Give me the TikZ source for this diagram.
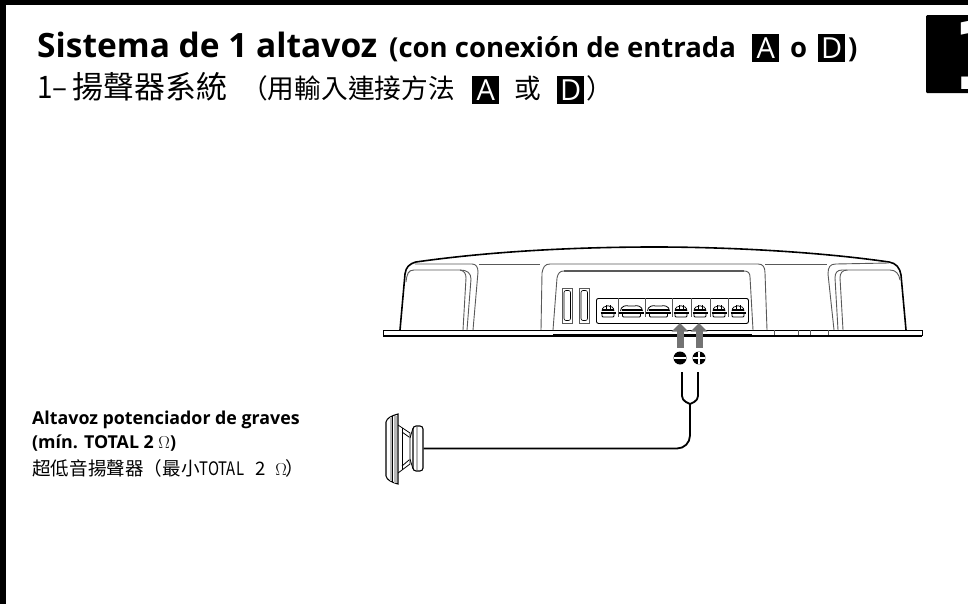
\documentclass[tikz,border=0pt]{standalone}
\usepackage{fontspec}
\setmainfont{Open Sans}
\newfontfamily\cjk{Noto Sans CJK TC}
\newfontfamily\bignum{DejaVu Sans}
\usetikzlibrary{arrows.meta}
\definecolor{polegray}{rgb}{0.45, 0.45, 0.45}
\definecolor{bodygray}{rgb}{0.35, 0.35, 0.35}
\definecolor{stripegray}{rgb}{0.72, 0.72, 0.72}
\tikzset{
  txt/.style={anchor=base west, inner sep=0pt, text=black},
  badge/.style={fill=black, text=white, inner sep=0pt, anchor=north west, minimum width=27pt, minimum height=28pt},
  outline/.style={line width=1.6pt, black},
  inner/.style={line width=0.9pt, bodygray},
  cable/.style={line width=1.8pt, black, line join=round},
  polearrow/.style={line width=7pt, polegray, -{Triangle[length=8.5pt,width=16pt]}},
  polesign/.style={circle, fill=black, inner sep=0pt, minimum size=13pt},
  narrowterm/.pic={
    \draw[line width=.7pt, fill=white] (-6,-1) .. controls (-6,-8) and (6,-8) .. (6,-1);
    \draw[line width=.7pt] (-2,-7) -- (-2,-1) (2,-7) -- (2,-1);
    \draw[line width=1.1pt] (-6,-2) -- (6,-2);
    \draw[line width=1.8pt] (-7.5,1) -- (7.5,1);
    \draw[line width=.8pt, rounded corners=1pt] (-6,1) -- (-6,5) -- (6,5) -- (6,1);
  },
  wideterm/.pic={
    \draw[line width=.8pt, fill=white] (-11,-1) .. controls (-11,-6) and (-5,-7) .. (-3,-6) -- (3,-6) .. controls (5,-7) and (11,-6) .. (11,-1);
    \draw[line width=1.1pt] (-10,-2) -- (10,-2);
    \draw[line width=1.8pt] (-12.5,1) -- (12.5,1);
    \draw[line width=.8pt, rounded corners=1pt] (-9,1) -- (-9,5) -- (9,5) -- (9,1);
  },
}
\begin{document}
\begin{tikzpicture}[x=1pt,y=-1pt]
    \useasboundingbox (0,0) rectangle (968,604);
    % frame
    \fill[black] (0,0) rectangle (968,5);
    \fill[black] (0,0) rectangle (6,604);
    % tab with the number
    \node[fill=black, rounded corners=1pt, inner sep=0pt, minimum width=48pt, minimum height=78pt, anchor=north west] (tab) at (926,15) {};
    \node[txt, text=white, font=\bignum\bfseries\fontsize{96}{96}\selectfont] (tabnum) at (950,90) {1};

    % headings
    \node[txt, font=\bfseries\fontsize{33.5}{34}\selectfont] (head) at (37,58) {Sistema de 1 altavoz};
    \node[txt, font=\bfseries\fontsize{27.5}{28}\selectfont] (headsub) at (389,58) {(con conexión de entrada};
    \node[badge, font=\fontsize{29}{29}\selectfont] (headA) at (752,33.5) {A};
    \node[txt, font=\bfseries\fontsize{27.5}{28}\selectfont] (heado) at (790,58) {o};
    \node[badge, font=\fontsize{29}{29}\selectfont] (headD) at (818,33.5) {D};
    \node[txt, font=\bfseries\fontsize{27.5}{28}\selectfont] (headend) at (848,58) {)};
    \node[txt, font=\cjk\fontsize{31}{31}\selectfont] (zhone) at (37,99) {\scalebox{.9}[1]{1–}};
    \node[txt, font=\cjk\fontsize{31}{31}\selectfont] (zhhead) at (72,99) {揚聲器系統};
    \node[txt, font=\cjk\fontsize{26.7}{27}\selectfont] (zhsub) at (241,98.5) {（用輸入連接方法};
    \node[badge, font=\fontsize{29}{29}\selectfont] (zhA) at (472,76) {A};
    \node[txt, font=\cjk\fontsize{26.7}{27}\selectfont] (zhor) at (514,98.5) {或};
    \node[badge, font=\fontsize{29}{29}\selectfont] (zhD) at (557,76) {D};
    \node[txt, font=\cjk\fontsize{26.7}{27}\selectfont] (zhend) at (586,98.5) {）};

    % speaker label
    \node[txt, font=\bfseries\fontsize{17.8}{18}\selectfont] (spka) at (32,424) {Altavoz potenciador de graves};
    \node[txt, font=\bfseries\fontsize{17.8}{18}\selectfont] (spkb) at (32,448) {(mín. TOTAL 2 $\Omega$)};
    \node[txt, font=\cjk\fontsize{18.6}{19}\selectfont] (spkc) at (32,475) {超低音揚聲器（最小\scalebox{.8}[1]{TOTAL}\hspace{11pt}2\hspace{10pt}$\Omega$\hspace{-1pt}）};

    % amplifier flange
    \draw[line width=1pt, fill=white] (383,330) -- (922,330) -- (922,335.5) -- (383,335.5) -- cycle;
    \draw[line width=2pt] (383,336) -- (922,336);
    \draw[line width=3pt] (553,335) -- (752,335);
    \foreach \x in {774,798,810,828} {
        \draw[inner] (\x,330) -- (\x,335);
    }
    % amplifier body
    \draw[outline] (400,330) -- (405,274) .. controls (406,267) and (409,264) .. (416,262)
        .. controls (500,250) and (590,247) .. (655,247)
        .. controls (730,247) and (820,252) .. (889,262)
        .. controls (896,263) and (900,268) .. (901,275) -- (906,330);
    % left pocket
    \draw[inner] (415,264) -- (472,264) .. controls (476,264) and (478,267) .. (478,272) -- (473,330);
    \draw[inner] (406,282) .. controls (407,274) and (408,270) .. (414,270) -- (460,270)
        .. controls (467,270) and (471,273) .. (471,279) -- (467,330);
    \draw[inner] (460,270) .. controls (464,271) and (466,273) .. (466,278) -- (463,330);
    \draw[inner] (479,264) -- (540,264);
    % middle panel
    \draw[inner] (541,330) -- (542,273) .. controls (543,267) and (545,264) .. (550,264) -- (758,264)
        .. controls (763,264) and (765,267) .. (765,273) -- (767,330);
    \draw[inner] (553,330) -- (557,278) .. controls (558,273) and (560,271) .. (564,271) -- (744,271)
        .. controls (748,271) and (750,273) .. (750,277) -- (753,330);
    \draw[line width=1.4pt, bodygray] (564,271) -- (744,271);
    \draw[inner] (765,264) -- (827,264);
    % right pocket
    \draw[inner] (834,330) -- (828,274) .. controls (828,267) and (830,264) .. (836,264) -- (889,263);
    \draw[inner] (838,330) -- (835,278) .. controls (835,273) and (837,270) .. (842,270) -- (847,270);
    \draw[inner] (843,330) -- (840,278) .. controls (840,273) and (842,270) .. (848,270) -- (890,270)
        .. controls (896,270) and (899,274) .. (900,280);
    % slots
    \foreach \x in {562,579} {
        \draw[inner, fill=white] (\x,288) rectangle ++(10.5,35);
        \draw[line width=.6pt, rounded corners=2pt] (\x+2,290.5) rectangle ++(6.5,30);
    }

    % terminal strip
    \node[draw, line width=.9pt, rounded corners=2pt, inner sep=0pt, minimum width=152pt, minimum height=25pt, anchor=north west] (strip) at (596,298) {};
    \foreach \x in {618,645,672,691,710,728} {
        \draw[inner] (\x,298) -- (\x,317);
    }
    \foreach \x in {608,681,700,719,738} {
        \pic at (\x,312) {narrowterm};
    }
    \foreach \x in {631.5,658.5} {
        \pic at (\x,312) {wideterm};
    }
    \coordinate (termminus) at (680,323);
    \coordinate (termplus) at (699,323);

    % polarity signs
    \node[polesign, path picture={\draw[white, line width=2.8pt] (path picture bounding box.west) -- (path picture bounding box.east);}] (minus) at (680,358) {};
    \node[polesign, path picture={\draw[white, line width=2.6pt] (path picture bounding box.west) -- (path picture bounding box.east) (path picture bounding box.north) -- (path picture bounding box.south);}] (plus) at (699,358) {};
    \draw[polearrow] (minus.north) ++(0,-3.5) coordinate (minustail) (minustail) -- (termminus);
    \draw[polearrow] (plus.north) ++(0,-3.5) coordinate (plustail) (plustail) -- (termplus);

    % speaker
    \draw[line width=1.1pt, fill=white] (398,414) .. controls (391,416) and (387,418) .. (386,422) -- (386,476) .. controls (387,480) and (391,482) .. (398,484) -- cycle;
    \fill[stripegray] (389.5,417) rectangle (392,481);
    \fill[stripegray] (394,415.5) rectangle (396.5,483);
    \draw[line width=.8pt] (392.5,416) -- (392.5,482);
    \draw[line width=.8pt] (398,425) -- (410,433) -- (410,464) -- (398,473);
    \draw[line width=.8pt] (402,428) -- (402,470);
    \draw[line width=.8pt] (402,432) -- (409,437) (402,466) -- (409,460);
    \node[draw, line width=1.1pt, fill=white, rounded corners=3pt, inner sep=0pt, minimum width=10pt, minimum height=45pt] (magnet) at (418,448.5) {};
    \fill[stripegray] (415.5,427) rectangle (417.5,470);
    \draw[line width=.8pt] (410,438) -- (413,428) (410,459) -- (413,469);

    % cable
    \coordinate (fork) at (690,404);
    \coordinate (wireminus) at (682,372);
    \coordinate (wireplus) at (698,372);
    \draw[cable, rounded corners=4pt] (wireminus) -- (682,400) -- (fork);
    \draw[cable, rounded corners=4pt] (wireplus) -- (698,400) -- (fork);
    \draw[cable, rounded corners=13pt] (fork) -- (fork |- magnet) -- (magnet);
\end{tikzpicture}
\end{document}
